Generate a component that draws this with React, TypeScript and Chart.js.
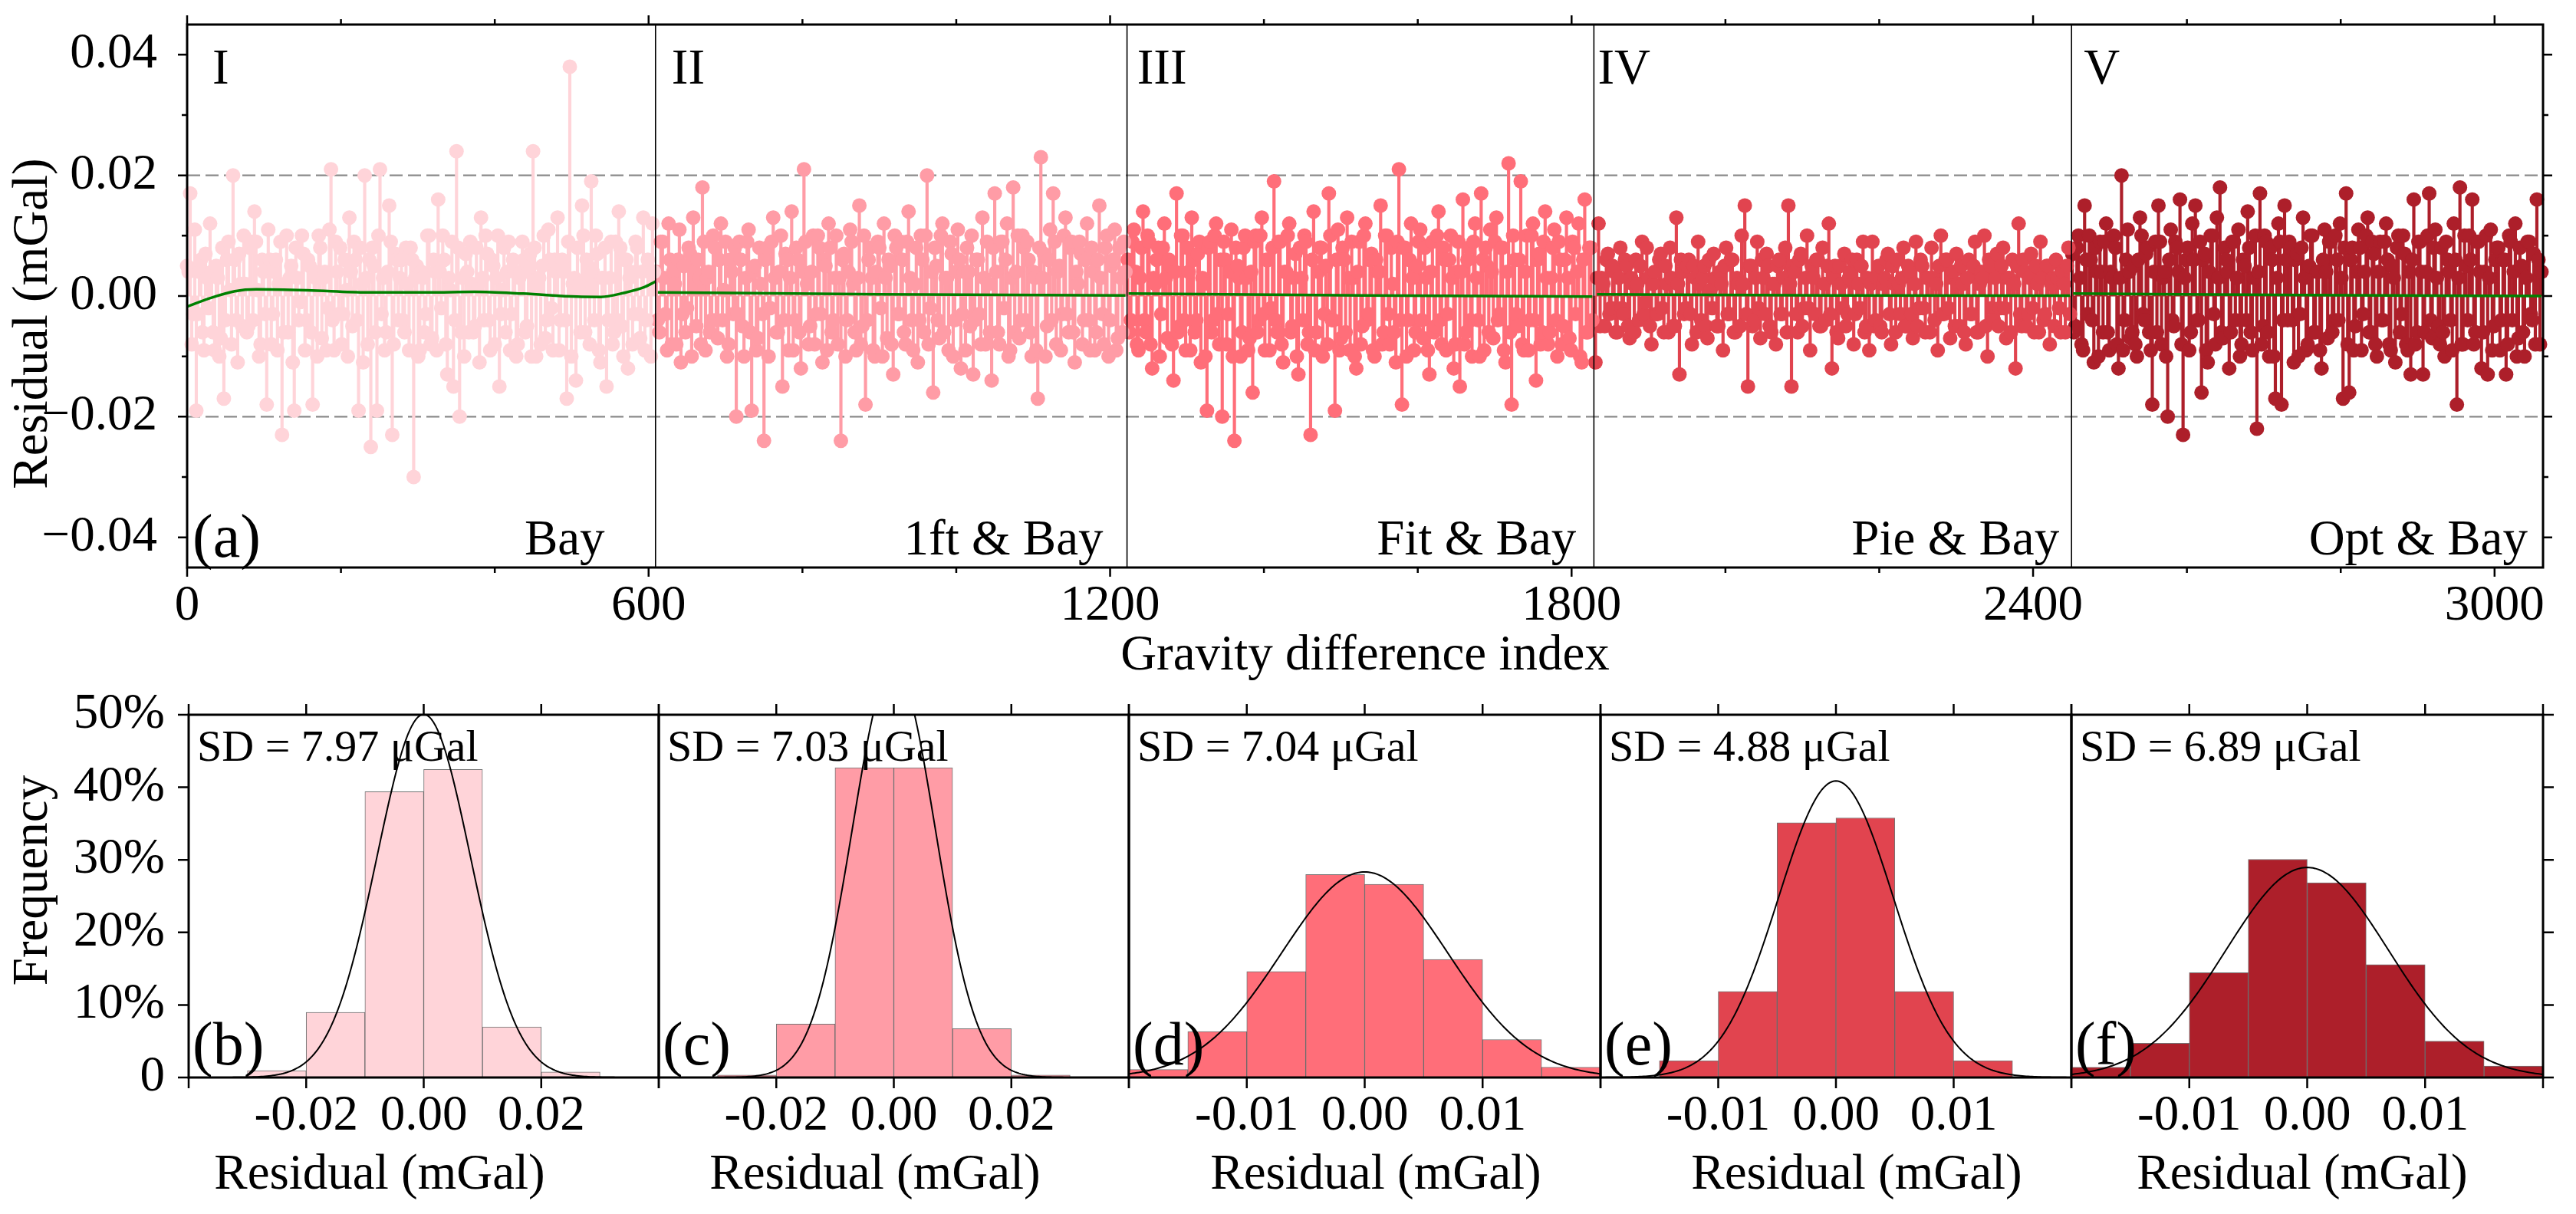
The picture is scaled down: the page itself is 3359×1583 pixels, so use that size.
import React, { useEffect, useRef } from 'react';
import { Chart, registerables } from 'chart.js';

Chart.register(...registerables);

const FONT = '"Liberation Serif", "Times New Roman", Times, serif';
const W = 3359;
const H = 1583;
const UNIT = 0.001; // µGal -> mGal

// ---------------- top panel data (residuals in µGal, sampled every ~2 indices) ----------------
const SEG_NAMES = ['I', 'II', 'III', 'IV', 'V'];
const SEG_METHODS = ['Bay', '1ft & Bay', 'Fit & Bay', 'Pie & Bay', 'Opt & Bay'];
const SEG_START = [0, 610, 1223, 1831, 2451];
const SEG_END = [607, 1220, 1827, 2448, 3061];
const SEG_BOUNDS = [609, 1222, 1829, 2450];
const SEG_COLORS = ['#FFD4D9', '#FF9CA6', '#FF6E79', '#E1444F', '#AD1F2A'];
const X_MAX = 3063;

const RES_I = [
  5, 4, 17, -8, -3, 11, -19, -3, 4, 6, -6, -9, 7, 3, -2, 12, 4, -6, -9, 5,
  3, -10, -7, 8, -17, -4, 6, 9, 1, -8, 20, 6, -4, -11, 7, 2, -5, 10, 2, -6,
  -5, 8, 9, -4, 14, 9, 1, -10, -8, 6, 4, -3, -18, 11, 6, -8, -3, 4, 6, -9,
  2, 9, -23, -6, 2, 10, -6, 3, 5, -11, -19, 8, 3, -4, -1, 10, 7, -9, -4, 6,
  5, -6, -18, 4, 3, -10, 10, 8, -7, 3, 4, -9, -2, 11, 21, -4, -9, 9, 4, -3,
  8, -8, -3, 6, 1, -10, 13, 4, -5, 9, 6, -4, -19, 8, 2, -11, 20, 3, -8, 6,
  -25, 8, 5, -6, -19, 10, 21, -3, 3, -9, -6, 4, 15, 9, -23, -8, 7, 6, -4, 3,
  6, -4, -6, 8, 2, -9, 8, 6, -30, 3, 5, -10, -9, 4, 3, -6, -3, 10, 10, -8,
  -7, 6, 4, -9, 16, 4, -2, 10, 6, -8, -13, 3, 1, 9, -15, -4, 24, 8, -20, -6,
  3, -10, 7, 4, -6, 9, 2, -6, -5, 8, 2, -11, 13, 3, -4, 10, 7, -4, -9, 6,
  5, -8, 3, 10, -15, -3, 1, 8, -6, 4, 9, -9, -3, 6, 4, -10, -8, 3, 4, 9,
  6, -6, -5, 4, 7, -10, 24, 8, -10, 3, 3, -8, 5, 10, -7, -4, 11, 6, -2, -9,
  6, 4, 13, -9, -4, 6, 4, -4, -17, 9, 38, -10, 2, 3, -14, 8, 2, -6, 15, 10,
  -6, 6, 5, -8, 19, 4, -4, 10, 7, -9, -11, 3, 3, 8, -15, -4, 3, 9, -8, -6,
  9, -4, 14, 8, -5, -10, 6, 6, -12, 3, 4, -8, -3, 9, 8, -3, -7, 4, 13, -9,
  -4, 6, 4, -10, 12, 4,
];
const RES_II = [
  4, -4, -6, 9, 9, 3, -3, -9, 12, 6, -8, 4, 2, -8, 6, 11, -11, -3, 5, -6,
  -2, 8, 7, -10, 13, 4, -5, 6, 3, -8, 18, 9, -9, 3, 4, -6, -4, 10, 8, -4,
  -7, 6, 12, -4, 1, 9, -10, -8, 6, 4, -3, 8, -20, -3, 9, 6, -5, -10, 3, 9,
  11, -6, -19, 4, 5, -9, -7, 8, 2, -3, -24, 6, 8, -10, -2, 9, 13, 3, -6, -6,
  4, 10, -15, -4, 7, 6, -9, 3, 14, -9, -4, 8, 6, -6, -12, 4, 21, 9, 2, -8,
  -5, 4, 10, -8, -3, 10, 8, -3, -11, 6, 5, -9, 12, 8, -6, -4, 3, 10, -8, 3,
  -24, 6, 7, -10, -4, 4, 11, 9, 2, -6, -9, 3, 15, -8, -5, 10, -18, -4, 6, 8,
  3, -9, -10, 4, 9, 8, -2, -10, 12, 3, -7, 6, 5, -8, -13, 10, 8, -3, -3, 9,
  6, -6, -8, 9, 14, 3, -4, -9, 2, 8, -11, -4, 10, 6, -6, 10, 20, -8, -2, 4,
  -16, 8, 5, -4, -7, 10, 12, -6, 3, 3, -9, 9, 7, -10, -4, 4, 11, 6, -12, -3,
  4, -9, 8, 4, -5, 10, -13, -4, 6, 6, -3, -8, 13, 3, -8, 9, 2, -6, -14, 8,
  17, 4, -6, -8, 9, 9, -2, 6, 12, -10, -9, 3, 18, -6, 4, 10, -7, -4, 10, 8,
  -4, 9, 6, -6, -10, 4, 3, -9, -17, 8, 23, 3, 7, -10, -5, 6, 11, -4, 17, 9,
  -8, 4, 5, -9, -3, 10, 13, -3, -6, 8, 9, -6, -11, 4, 2, 9, 7, -8, -4, 6,
  12, -4, -9, 8, 4, -9, -6, 6, 15, 3, -3, -8, 8, 10, -10, -4, 5, 6, 11, -9,
  -7, 8, 3, -6, 9, 4,
];
const RES_III = [
  6, -6, -4, 9, 11, 4, -8, -9, 3, 8, 14, -4, -6, 10, 9, -8, -12, 3, 2, 6,
  8, -10, -3, 8, 12, 3, -7, 6, 5, -8, -14, 4, 17, -6, -5, 10, 10, -4, -9, 8,
  4, -9, 13, 6, -6, -4, 7, 9, -11, 3, 2, -10, -19, 8, 9, -6, -4, 10, 12, -3,
  -8, 6, -20, 9, 6, -8, -3, 4, 11, -10, -24, 8, 5, 3, -10, -6, 8, 10, 3, -9,
  -7, 4, -16, 9, 10, -6, -4, 10, 13, -3, -9, 6, 6, -9, -2, 8, 19, -4, -6, 9,
  9, -8, -11, 4, 4, 10, 12, -6, -5, 3, 7, -10, -13, 8, 3, -4, 10, 9, -8, -6,
  -23, 6, 14, -9, -6, 4, 8, 8, -10, -3, 5, -8, 17, 10, -4, -4, -19, 6, 11, -9,
  -7, 8, 6, -6, 13, 3, -9, 9, 3, -10, -12, 4, 9, -8, -5, 10, 12, -4, -3, 6,
  7, -9, -10, 6, 4, 4, 15, -8, -6, 10, 10, -3, -8, 8, 2, -6, -11, 9, 21, -4,
  -18, 8, 8, -10, -4, 6, 12, 3, -9, -6, 5, 9, 11, -4, -7, 8, 3, -9, -13, 4,
  9, -6, -5, 10, 14, -4, -8, 8, 6, -9, -3, 6, 10, 3, -12, -8, 4, 9, -15, 4,
  16, -8, -6, 6, 8, -4, -10, 9, 12, 3, -4, -10, 17, 6, -9, 8, 5, -6, 11, 4,
  -7, 9, 13, -4, -3, 8, 8, -9, -11, 4, 22, -6, -18, 10, 6, -3, -5, 6, 19, -8,
  -9, 4, 10, -9, -4, 10, 12, -4, -14, 6, 7, -8, -6, 9, 14, 3, -8, -6, 3, 8,
  11, -4, -10, 9, 6, -8, -5, 6, 13, 3, -7, -9, 9, 8, -3, 4, 12, -10, -11, 6,
  16, -6, -6, 8, 8, -4,
];
const RES_IV = [
  -11, 3, 12, -5, 3, 2, -5, 6, 7, -3, -2, 5, 4, -6, -6, 3, 8, -2, -3, 6,
  5, -5, -7, 3, 2, -6, 6, 2, -4, 5, 9, -3, -1, 8, 3, -5, -8, 2, 4, -3,
  -3, 6, 7, -2, -6, 5, 2, -6, 8, 3, -5, -5, 13, 2, -13, 6, 4, -3, -2, 5,
  6, -3, -8, 5, 3, -6, 9, 2, -4, 3, 5, -5, -7, 6, 1, -2, 7, 3, -5, -5,
  4, 2, -9, 5, 8, -3, -3, 6, 6, -6, -6, 3, 2, -5, 10, 2, 15, -3, -15, 5,
  5, -5, -4, 3, 9, -2, -7, 6, 3, -3, 7, 5, -5, -6, 2, 2, -8, 5, 6, -3,
  -3, 3, 8, -6, 15, 2, -15, 5, 4, -3, -6, 6, 7, -5, -2, 3, 10, -2, -9, 5,
  3, -3, 6, 6, -5, -5, 8, 2, -4, 5, 12, -3, -12, 3, 5, -6, -7, 5, 2, -2,
  7, -5, -3, 3, 4, 6, -8, -3, 6, 2, -2, 5, 9, -6, -5, 3, -9, 2, 9, -5,
  -4, 3, 5, -5, -6, 2, 3, 6, 7, -3, -8, 5, 2, -6, 6, 2, -3, 3, 8, -5,
  -5, 5, 4, -3, -7, 2, 9, -5, -2, 6, 5, -2, -6, 3, 3, -6, 8, 3, -4, 2,
  -9, 5, 10, -3, -3, 6, 6, -2, -7, 3, 4, -5, 7, 2, -5, 5, 2, -6, -8, 3,
  6, -3, -3, 5, 9, -6, -6, 2, 4, 3, 10, -5, -10, 6, 5, -2, -4, 3, 7, -5,
  -2, 5, 8, -2, -7, 3, 3, -6, 6, 2, -12, 5, 12, -3, -5, 6, 4, -5, -3, 3,
  7, -2, -6, 5, 2, -6, 9, 3, -4, -3, 5, 5, -8, 2, 3, -5, 6, 3, -2, -6,
  4, 2, -6, 5, 8, -3,
];
const RES_V = [
  7, -6, -5, 8, 10, 3, -8, -9, 15, 6, -3, 10, 6, -4, -11, 8, 4, -10, 9, 4,
  -6, 9, 12, -6, -9, 4, 3, 10, 8, -8, -12, 3, 20, -9, -4, 6, 11, 4, -7, -6,
  5, -8, -10, 6, 13, 10, -3, -4, 7, 8, -6, -9, -18, 4, 9, -6, 15, 9, -8, 3,
  4, -10, -20, 6, 11, -4, -5, 9, 8, 4, 16, -8, -23, 3, 6, 8, -9, -6, 12, 6,
  15, -4, -4, 9, -16, 6, 7, -9, -11, 4, 10, 10, -3, -8, 13, 3, 18, -6, -7, 8,
  6, 4, -12, -6, 9, 9, -4, 3, 11, -10, -8, 6, 5, -4, 14, 8, -6, -9, 3, 10,
  -22, 4, 17, -8, -5, 10, 9, -6, -10, 8, 6, -10, -17, 3, 12, 9, -18, -4, 15, 6,
  -4, 9, 8, -4, -11, 6, 7, -10, -3, 8, 13, 3, -9, -8, 5, 10, 10, -6, -6, 4,
  4, -9, -12, 6, 11, 4, -7, 9, 9, -6, -4, 10, 6, -4, 12, 3, -17, 8, 17, -8,
  -16, 6, 8, -9, -5, 4, 11, 8, -9, -3, 4, 10, 13, -6, -6, 9, 7, -8, -10, 4,
  9, -4, -4, 9, 12, 6, -8, -9, 5, 3, -11, 8, 10, -6, -3, 10, 7, -8, -9, 4,
  -13, 6, 16, -8, -6, 9, 9, 4, -13, -6, 4, 10, 17, -4, -7, 8, 11, 3, -5, -8,
  8, -6, -10, 9, 6, 4, -4, -9, 12, 6, -18, 3, 18, -8, -8, 10, 5, -4, 10, 6,
  16, -8, -6, 9, 9, 4, -12, -6, 4, 10, -13, 3, 11, -9, -5, 6, 8, 8, -9, -4,
  6, 6, -13, -8, 10, 9, -4, 4, 12, -10, -7, 8, 5, -6, -10, 3, 9, 9, -3, -4,
  7, -8, 16, 6, -8, 4,
];
const SEG_RES = [RES_I, RES_II, RES_III, RES_IV, RES_V];

// green trend line (µGal); null breaks the line between segments
const TREND_X = [0, 31, 62, 90, 156, 234, 312, 374, 437, 507, 538, 569, 593, 609, 610, 612, 900, 1220, 1221, 1224, 1530, 1827, 1830, 1833, 2140, 2448, 2450, 2452, 2750, 3061];
const TREND_Y = [-1.75, -0.3, 0.8, 1.1, 0.95, 0.6, 0.6, 0.7, 0.4, -0.1, -0.15, 0.55, 1.4, 2.4, null, 0.6, 0.3, 0.1, null, 0.4, 0.1, -0.1, null, 0.3, 0.1, 0.05, null, 0.4, 0.15, 0.0];

const REF_LINES = [0.02, -0.02];
const TOP_Y_MIN = -0.045;
const TOP_Y_MAX = 0.045;
const TOP_Y_TICKS = [-0.04, -0.03, -0.02, -0.01, 0, 0.01, 0.02, 0.03, 0.04];
const TOP_Y_LABEL_STEP = 0.02;
const TOP_X_TICKS = [0, 200, 400, 600, 800, 1000, 1200, 1400, 1600, 1800, 2000, 2200, 2400, 2600, 2800, 3000];
const TOP_X_LABEL_STEP = 600;

// annotation anchors (index units)
const ROMAN_X = [33, 630, 1235, 1834, 2466];
const METHOD_RIGHT_X = [543, 1191, 1806, 2434, 3043];
const TAG_A_X = 11;

// ---------------- histogram data (percent per bin) ----------------
const HIST_B_X = [-0.025, -0.015, -0.005, 0.005, 0.015, 0.025];
const HIST_B_PCT = [0.95, 8.97, 39.4, 42.45, 6.98, 0.76];
const HIST_C_X = [-0.025, -0.015, -0.005, 0.005, 0.015, 0.025];
const HIST_C_PCT = [0.33, 7.36, 42.7, 42.7, 6.74, 0.33];
const HIST_D_X = [-0.0175, -0.0125, -0.0075, -0.0025, 0.0025, 0.0075, 0.0125, 0.0175];
const HIST_D_PCT = [1.09, 6.33, 14.6, 27.97, 26.64, 16.27, 5.23, 1.43];
const HIST_E_X = [-0.0125, -0.0075, -0.0025, 0.0025, 0.0075, 0.0125];
const HIST_E_PCT = [2.33, 11.85, 35.1, 35.78, 11.85, 2.33];
const HIST_F_X = [-0.0175, -0.0125, -0.0075, -0.0025, 0.0025, 0.0075, 0.0125, 0.0175];
const HIST_F_PCT = [1.43, 4.71, 14.46, 30.07, 26.83, 15.56, 5.0, 1.57];

const HIST_SD_UGAL = [7.97, 7.03, 7.04, 4.88, 6.89];
const HIST_MEAN = [0, 0, 0, 0, 0];
const HIST_BIN = [0.01, 0.01, 0.005, 0.005, 0.005];
const HIST_X_TICKS_WIDE = [-0.04, -0.02, 0, 0.02, 0.04];
const HIST_X_TICKS_NARROW = [-0.02, -0.01, 0, 0.01, 0.02];
const HIST_X_TICKS = [HIST_X_TICKS_WIDE, HIST_X_TICKS_WIDE, HIST_X_TICKS_NARROW, HIST_X_TICKS_NARROW, HIST_X_TICKS_NARROW];
const HIST_TAGS = ['(b)', '(c)', '(d)', '(e)', '(f)'];
const PCT_TICKS = [0, 10, 20, 30, 40, 50];

const HISTS = [
  { x: HIST_B_X, y: HIST_B_PCT },
  { x: HIST_C_X, y: HIST_C_PCT },
  { x: HIST_D_X, y: HIST_D_PCT },
  { x: HIST_E_X, y: HIST_E_PCT },
  { x: HIST_F_X, y: HIST_F_PCT },
];

// ---------------- layout ----------------
const TOP_CANVAS_H = 920;
const TOP_AREA = { left: 244, right: 3316, top: 32, bottom: 740 };
const HIST_CANVAS_TOP = 880;
const HIST_CANVAS_H = 703;
const HIST_EDGES = [246, 859, 1472, 2087, 2701, 3316];
const HIST_AREA_TOP = 932 - HIST_CANVAS_TOP;
const HIST_AREA_BOTTOM = 1405 - HIST_CANVAS_TOP;
const HIST_TITLE_DX = [249, 282, 322, 334, 301];
const TICK_FS = 65;
const TITLE_FS = 65;

const font = (size: number) => ({ family: FONT, size });

const setTicks = (vals: number[]) => (s: any) => {
  s.ticks = vals.map((value) => ({ value }));
};

const zeroPad = (s: any) => {
  s.paddingTop = 0;
  s.paddingBottom = 0;
  s.paddingLeft = 0;
  s.paddingRight = 0;
};

function framePlugin(o: {
  tl: boolean; tr: boolean; tt: boolean; tb: boolean;
  major: number; minor: number; lw: number; tw: number;
}) {
  return {
    id: 'frameTicks',
    afterDatasetsDraw(chart: any) {
      const { ctx, chartArea: a, scales } = chart;
      const xs = scales.x;
      const ys = scales.y;
      ctx.save();
      ctx.strokeStyle = '#000';
      ctx.lineWidth = o.tw;
      ctx.beginPath();
      xs.ticks.forEach((t: any) => {
        const p = xs.getPixelForValue(t.value);
        const len = t.label !== '' ? o.major : o.minor;
        if (o.tb) { ctx.moveTo(p, a.bottom); ctx.lineTo(p, a.bottom + len); }
        if (o.tt) { ctx.moveTo(p, a.top); ctx.lineTo(p, a.top - len); }
      });
      ys.ticks.forEach((t: any) => {
        const p = ys.getPixelForValue(t.value);
        const len = t.label !== '' ? o.major : o.minor;
        if (o.tl) { ctx.moveTo(a.left, p); ctx.lineTo(a.left - len, p); }
        if (o.tr) { ctx.moveTo(a.right, p); ctx.lineTo(a.right + len, p); }
      });
      ctx.stroke();
      ctx.lineWidth = o.lw;
      ctx.strokeRect(a.left, a.top, a.right - a.left, a.bottom - a.top);
      ctx.restore();
    },
  };
}

function drawRotated(ctx: CanvasRenderingContext2D, text: string, x: number, y: number, size: number) {
  ctx.save();
  ctx.translate(x, y);
  ctx.rotate(-Math.PI / 2);
  ctx.font = `${size}px ${FONT}`;
  ctx.textAlign = 'center';
  ctx.textBaseline = 'middle';
  ctx.fillStyle = '#000';
  ctx.fillText(text, 0, 0);
  ctx.restore();
}

const topAnnotPlugin = {
  id: 'topAnnot',
  beforeDatasetsDraw(chart: any) {
    const { ctx, chartArea: a, scales } = chart;
    ctx.save();
    ctx.strokeStyle = '#8a8a8a';
    ctx.lineWidth = 2.2;
    ctx.setLineDash([17, 7]);
    REF_LINES.forEach((v) => {
      const py = scales.y.getPixelForValue(v);
      ctx.beginPath();
      ctx.moveTo(a.left, py);
      ctx.lineTo(a.right, py);
      ctx.stroke();
    });
    ctx.restore();
  },
  afterDatasetsDraw(chart: any) {
    const { ctx, chartArea: a, scales } = chart;
    const xs = scales.x;
    ctx.save();
    ctx.strokeStyle = '#000';
    ctx.lineWidth = 1.6;
    SEG_BOUNDS.forEach((b) => {
      const px = xs.getPixelForValue(b);
      ctx.beginPath();
      ctx.moveTo(px, a.top);
      ctx.lineTo(px, a.bottom);
      ctx.stroke();
    });
    ctx.fillStyle = '#000';
    ctx.textBaseline = 'alphabetic';
    ctx.font = `${TITLE_FS}px ${FONT}`;
    ctx.textAlign = 'left';
    SEG_NAMES.forEach((n, k) => ctx.fillText(n, xs.getPixelForValue(ROMAN_X[k]), a.top + 77));
    ctx.textAlign = 'right';
    SEG_METHODS.forEach((m, k) => ctx.fillText(m, xs.getPixelForValue(METHOD_RIGHT_X[k]), a.bottom - 17));
    ctx.textAlign = 'left';
    ctx.font = `80px ${FONT}`;
    ctx.fillText('(a)', xs.getPixelForValue(TAG_A_X) - 4, a.bottom - 14);
    ctx.restore();
    drawRotated(ctx, 'Residual (mGal)', 44, 422, TITLE_FS);
  },
};

function topConfig(): any {
  const datasets: any[] = [];
  SEG_RES.forEach((vals, k) => {
    const n = vals.length;
    const pts = vals.map((v, i) => ({
      x: SEG_START[k] + (i * (SEG_END[k] - SEG_START[k])) / (n - 1),
      y: v * UNIT,
    }));
    datasets.push({
      type: 'bar', data: pts, backgroundColor: SEG_COLORS[k], borderWidth: 0,
      barThickness: 3.5, grouped: false, order: 2,
    });
    datasets.push({
      type: 'scatter', data: pts, showLine: false, pointRadius: 9.5, pointHoverRadius: 9.5,
      pointBackgroundColor: SEG_COLORS[k], backgroundColor: SEG_COLORS[k],
      pointBorderWidth: 0, borderWidth: 0, order: 1, clip: 12,
    });
  });
  datasets.push({
    type: 'line',
    data: TREND_X.map((x, i) => ({ x, y: TREND_Y[i] === null ? null : (TREND_Y[i] as number) * UNIT })),
    borderColor: '#008000', borderWidth: 3.5, pointRadius: 0, cubicInterpolationMode: 'monotone',
    spanGaps: false, fill: false, order: 0,
  });

  return {
    type: 'scatter',
    data: { datasets },
    options: {
      responsive: false,
      animation: false,
      events: [],
      layout: { padding: { left: 0, top: TOP_AREA.top, right: W - TOP_AREA.right, bottom: 0 } },
      plugins: { legend: { display: false }, tooltip: { enabled: false } },
      scales: {
        x: {
          type: 'linear', min: 0, max: X_MAX, offset: false,
          grid: { display: false, drawTicks: false }, border: { display: false },
          afterBuildTicks: setTicks(TOP_X_TICKS),
          ticks: {
            autoSkip: false, maxRotation: 0, minRotation: 0,
            padding: 12, font: font(TICK_FS), color: '#000',
            callback: (v: number) => (Math.round(v) % TOP_X_LABEL_STEP === 0 ? String(Math.round(v)) : ''),
          },
          title: {
            display: true, text: 'Gravity difference index', font: font(TITLE_FS), color: '#000',
            padding: { top: 0, bottom: 25 },
          },
          afterFit: (s: any) => { s.height = TOP_CANVAS_H - TOP_AREA.bottom; zeroPad(s); },
        },
        y: {
          type: 'linear', min: TOP_Y_MIN, max: TOP_Y_MAX,
          grid: { display: false, drawTicks: false }, border: { display: false },
          afterBuildTicks: setTicks(TOP_Y_TICKS),
          ticks: {
            autoSkip: false, padding: 39,
            font: font(TICK_FS), color: '#000',
            callback: (v: number) => {
              const r = Math.round(v * 1000);
              if (r % Math.round(TOP_Y_LABEL_STEP * 1000) !== 0) return '';
              const s = (Math.round(v * 100) / 100).toFixed(2);
              return s.replace('-', '\u2212');
            },
          },
          afterFit: (s: any) => { s.width = TOP_AREA.left; zeroPad(s); },
        },
      },
    },
    plugins: [
      topAnnotPlugin,
      framePlugin({ tl: true, tr: true, tt: true, tb: true, major: 12, minor: 7, lw: 3, tw: 2.5 }),
    ],
  };
}

function histConfig(k: number): any {
  const h = HISTS[k];
  const sd = HIST_SD_UGAL[k] * UNIT;
  const mu = HIST_MEAN[k];
  const bin = HIST_BIN[k];
  const xt = HIST_X_TICKS[k];
  const xmin = xt[0];
  const xmax = xt[xt.length - 1];
  const N = 240;
  const curve: { x: number; y: number }[] = [];
  for (let i = 0; i <= N; i++) {
    const x = xmin + ((xmax - xmin) * i) / N;
    const z = (x - mu) / sd;
    curve.push({ x, y: (100 * bin * Math.exp(-0.5 * z * z)) / (sd * Math.sqrt(2 * Math.PI)) });
  }
  const left = HIST_EDGES[k];
  const right = HIST_EDGES[k + 1];
  const first = k === 0;

  const textPlugin = {
    id: 'histText',
    afterDatasetsDraw(chart: any) {
      const { ctx, chartArea: a } = chart;
      ctx.save();
      ctx.fillStyle = '#000';
      ctx.textBaseline = 'alphabetic';
      ctx.textAlign = 'left';
      ctx.font = `58px ${FONT}`;
      ctx.fillText(`SD = ${HIST_SD_UGAL[k].toFixed(2)} \u03bcGal`, a.left + 11, a.top + 60);
      ctx.font = `80px ${FONT}`;
      ctx.fillText(HIST_TAGS[k], a.left + 5, a.bottom - 17);
      ctx.font = `${TITLE_FS}px ${FONT}`;
      ctx.textAlign = 'center';
      ctx.fillText('Residual (mGal)', a.left + HIST_TITLE_DX[k], a.bottom + 145);
      ctx.restore();
      if (first) drawRotated(ctx, 'Frequency', 44, 1148 - HIST_CANVAS_TOP, TITLE_FS);
    },
  };

  const yScale: any = {
    type: 'linear', min: PCT_TICKS[0], max: PCT_TICKS[PCT_TICKS.length - 1], display: first,
    grid: { display: false, drawTicks: false }, border: { display: false },
    afterBuildTicks: setTicks(PCT_TICKS),
    ticks: {
      autoSkip: false, padding: 31, font: font(TICK_FS), color: '#000',
      callback: (v: number) => (v === 0 ? '0' : `${Math.round(v)}%`),
    },
  };
  if (first) yScale.afterFit = (s: any) => { s.width = left; zeroPad(s); };

  return {
    type: 'bar',
    data: {
      datasets: [
        {
          type: 'line', data: curve, borderColor: '#000', borderWidth: 2, pointRadius: 0,
          tension: 0, fill: false, order: 0,
        },
        {
          type: 'bar', data: h.x.map((x, i) => ({ x, y: h.y[i] })),
          backgroundColor: SEG_COLORS[k], borderColor: 'rgba(70,70,70,0.75)', borderWidth: 1,
          grouped: false, categoryPercentage: 1, barPercentage: 1, order: 1,
        },
      ],
    },
    options: {
      responsive: false,
      animation: false,
      events: [],
      layout: {
        padding: { left: first ? 0 : left, top: HIST_AREA_TOP, right: W - right, bottom: 0 },
      },
      plugins: { legend: { display: false }, tooltip: { enabled: false } },
      scales: {
        x: {
          type: 'linear', min: xmin, max: xmax, offset: false,
          grid: { display: false, drawTicks: false }, border: { display: false },
          afterBuildTicks: setTicks(xt),
          ticks: {
            autoSkip: false, maxRotation: 0, minRotation: 0, padding: 12,
            font: font(TICK_FS), color: '#000',
            callback: (v: number) => {
              const r = Math.round(v * 1000);
              if (Math.abs(r) >= Math.round(xmax * 1000)) return '';
              return (Math.round(v * 100) / 100).toFixed(2);
            },
          },
          title: { display: false },
          afterFit: (s: any) => { s.height = HIST_CANVAS_H - HIST_AREA_BOTTOM; zeroPad(s); },
        },
        y: yScale,
      },
    },
    plugins: [
      textPlugin,
      framePlugin({ tl: first, tr: k === 4, tt: true, tb: true, major: 14, minor: 14, lw: 3, tw: 2.5 }),
    ],
  };
}

export default function App() {
  const topRef = useRef<HTMLCanvasElement>(null);
  const h0 = useRef<HTMLCanvasElement>(null);
  const h1 = useRef<HTMLCanvasElement>(null);
  const h2 = useRef<HTMLCanvasElement>(null);
  const h3 = useRef<HTMLCanvasElement>(null);
  const h4 = useRef<HTMLCanvasElement>(null);
  const histRefs = [h0, h1, h2, h3, h4];

  useEffect(() => {
    const charts: Chart[] = [];
    if (topRef.current) charts.push(new Chart(topRef.current, topConfig()));
    histRefs.forEach((r, k) => {
      if (r.current) charts.push(new Chart(r.current, histConfig(k)));
    });
    return () => charts.forEach((c) => c.destroy());
    // eslint-disable-next-line react-hooks/exhaustive-deps
  }, []);

  return (
    <div style={{ position: 'absolute', left: 0, top: 0, width: W, height: H, background: '#fff', overflow: 'hidden' }}>
      <canvas
        ref={topRef}
        width={W}
        height={TOP_CANVAS_H}
        style={{ position: 'absolute', left: 0, top: 0, width: W, height: TOP_CANVAS_H }}
      />
      {histRefs.map((r, k) => (
        <canvas
          key={k}
          ref={r}
          width={W}
          height={HIST_CANVAS_H}
          style={{ position: 'absolute', left: 0, top: HIST_CANVAS_TOP, width: W, height: HIST_CANVAS_H }}
        />
      ))}
    </div>
  );
}
